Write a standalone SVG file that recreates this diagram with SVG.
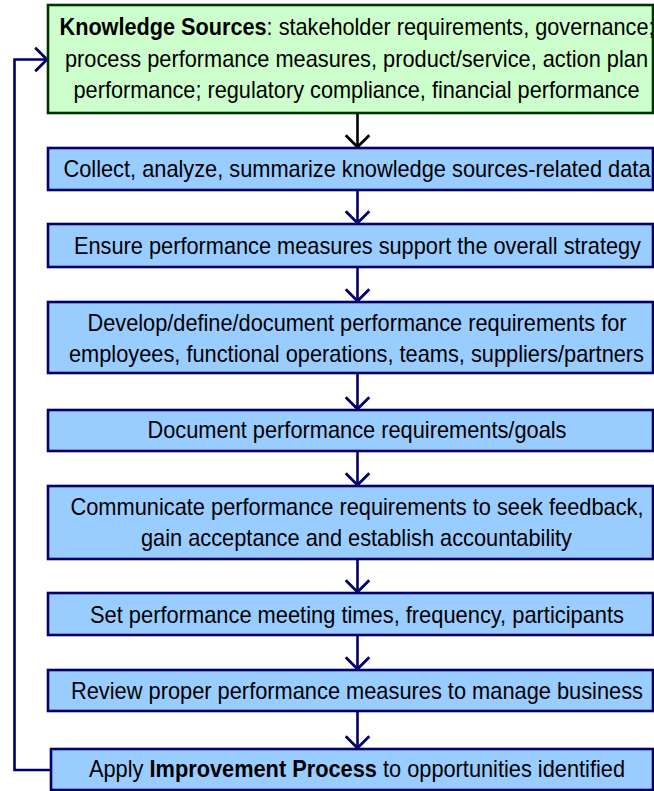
<svg xmlns="http://www.w3.org/2000/svg" width="654" height="791" viewBox="0 0 654 791">
<style>
.g{fill:#ccffcc;stroke:#003300;stroke-width:2.6}
.b{fill:#99ccff;stroke:#000066;stroke-width:2.6}
text{font-family:"Liberation Sans",Arial,sans-serif;font-size:24px;fill:#000;text-anchor:middle}
.c{fill:none;stroke:#000066;stroke-width:2.6}
.k{fill:none;stroke:#000;stroke-width:2.6}
</style>
<defs>
<marker id="an" markerUnits="userSpaceOnUse" markerWidth="30" markerHeight="30" refX="0" refY="0" viewBox="-14 -14 28 28" orient="auto" overflow="visible"><path d="M-11,-11 L0,0 L-11,11" fill="none" stroke="#000066" stroke-width="2.6"/></marker>
<marker id="ak" markerUnits="userSpaceOnUse" markerWidth="30" markerHeight="30" refX="0" refY="0" viewBox="-14 -14 28 28" orient="auto" overflow="visible"><path d="M-11,-11 L0,0 L-11,11" fill="none" stroke="#000" stroke-width="2.6"/></marker>
</defs>
<g id="connectors">
<line class="k" x1="357.5" y1="113" x2="357.5" y2="147" marker-end="url(#ak)"/>
<line class="c" x1="357.5" y1="190" x2="357.5" y2="223" marker-end="url(#an)"/>
<line class="c" x1="357.5" y1="267" x2="357.5" y2="301" marker-end="url(#an)"/>
<line class="c" x1="357.5" y1="373" x2="357.5" y2="409" marker-end="url(#an)"/>
<line class="c" x1="357.5" y1="451" x2="357.5" y2="485" marker-end="url(#an)"/>
<line class="c" x1="357.5" y1="559" x2="357.5" y2="592" marker-end="url(#an)"/>
<line class="c" x1="357.5" y1="635" x2="357.5" y2="669" marker-end="url(#an)"/>
<line class="c" x1="357.5" y1="711" x2="357.5" y2="748" marker-end="url(#an)"/>
<path class="c" d="M51,770 H14.5 V59.5 H47" marker-end="url(#an)"/>
</g>
<g id="n1">
<rect class="g" x="48" y="5" width="605" height="108"/>
<text x="357" y="35" textLength="595" lengthAdjust="spacingAndGlyphs"><tspan font-weight="bold">Knowledge Sources</tspan>: stakeholder requirements, governance;</text>
<text x="356.5" y="66.5" textLength="583" lengthAdjust="spacingAndGlyphs">process performance measures, product/service, action plan</text>
<text x="356.5" y="97.5" textLength="566" lengthAdjust="spacingAndGlyphs">performance; regulatory compliance, financial performance</text>
</g>
<g id="n2">
<rect class="b" x="48" y="148" width="605" height="42"/>
<text x="357" y="177" textLength="587" lengthAdjust="spacingAndGlyphs">Collect, analyze, summarize knowledge sources-related data</text>
</g>
<g id="n3">
<rect class="b" x="48" y="224" width="605" height="43"/>
<text x="357.5" y="253.5" textLength="567" lengthAdjust="spacingAndGlyphs">Ensure performance measures support the overall strategy</text>
</g>
<g id="n4">
<rect class="b" x="48" y="302" width="605" height="71"/>
<text x="357" y="330.5" textLength="539" lengthAdjust="spacingAndGlyphs">Develop/define/document performance requirements for</text>
<text x="356.5" y="361.5" textLength="575" lengthAdjust="spacingAndGlyphs">employees, functional operations, teams, suppliers/partners</text>
</g>
<g id="n5">
<rect class="b" x="48" y="410" width="605" height="41"/>
<text x="357" y="437.5" textLength="419" lengthAdjust="spacingAndGlyphs">Document performance requirements/goals</text>
</g>
<g id="n6">
<rect class="b" x="48" y="486" width="605" height="73"/>
<text x="357" y="515" textLength="573" lengthAdjust="spacingAndGlyphs">Communicate performance requirements to seek feedback,</text>
<text x="356.5" y="546" textLength="431" lengthAdjust="spacingAndGlyphs">gain acceptance and establish accountability</text>
</g>
<g id="n7">
<rect class="b" x="48" y="593" width="605" height="42"/>
<text x="357" y="623" textLength="534" lengthAdjust="spacingAndGlyphs">Set performance meeting times, frequency, participants</text>
</g>
<g id="n8">
<rect class="b" x="48" y="670" width="605" height="41"/>
<text x="357" y="699" textLength="572" lengthAdjust="spacingAndGlyphs">Review proper performance measures to manage business</text>
</g>
<g id="n9">
<rect class="b" x="51" y="749" width="602" height="41"/>
<text x="357" y="777" textLength="536" lengthAdjust="spacingAndGlyphs">Apply <tspan font-weight="bold">Improvement Process</tspan> to opportunities identified</text>
</g>
</svg>
